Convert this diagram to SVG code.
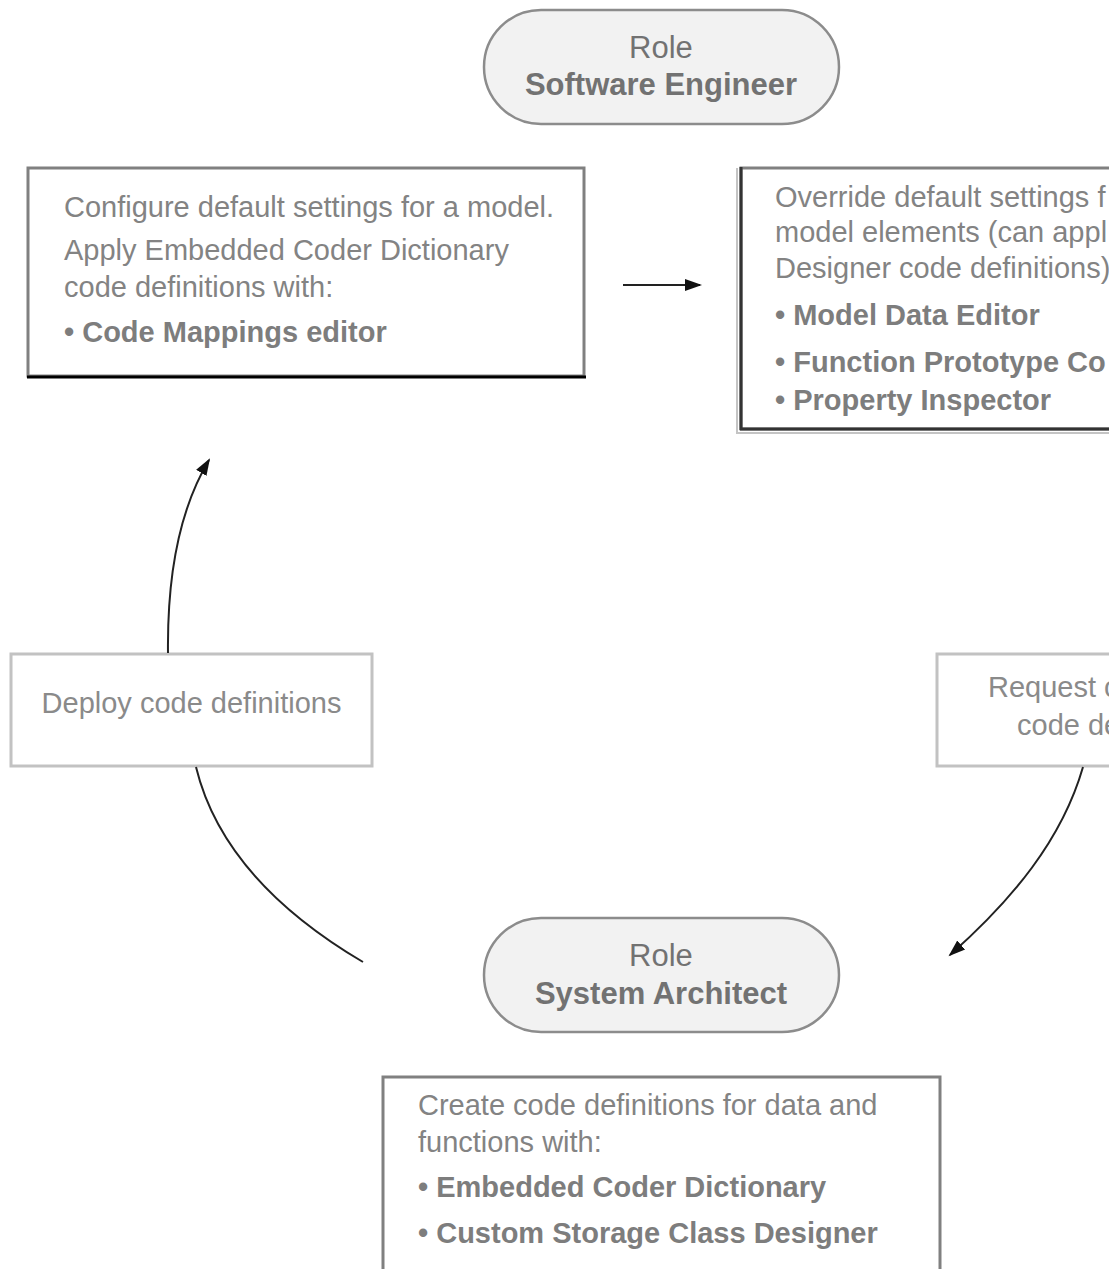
<svg xmlns="http://www.w3.org/2000/svg" width="1109" height="1269" viewBox="0 0 1109 1269">
<defs>
<marker id="ah" markerWidth="18" markerHeight="14" refX="15" refY="7" orient="auto" markerUnits="userSpaceOnUse" viewBox="0 0 18 14">
<path d="M0,1 L17,7 L0,13 Z" fill="#111"/>
</marker>
<style>
.t{font-family:"Liberation Sans",Arial,sans-serif;font-size:29px;fill:#838383}
.b{font-weight:bold;fill:#7d7d7d}
.r{font-family:"Liberation Sans",Arial,sans-serif;font-size:31px;fill:#727272;text-anchor:middle}
.role{fill:#f2f2f2;stroke:#8c8c8c;stroke-width:2.5}
.box{fill:#fff;stroke:#808080;stroke-width:3}
.lbox{fill:#fff;stroke:#c2c2c2;stroke-width:3}
.c{fill:none;stroke:#222;stroke-width:2}
</style>
</defs>
<rect width="1109" height="1269" fill="#fff"/>

<g id="role-software-engineer">
<rect class="role" x="484" y="10" width="355" height="114" rx="57" ry="57"/>
<text class="r" x="661" y="58">Role</text>
<text class="r b" x="661" y="95" style="fill:#727272">Software Engineer</text>
</g>

<g id="configure-box">
<rect class="box" x="28" y="168" width="556" height="208"/>
<line x1="27" y1="377" x2="586" y2="377" stroke="#000" stroke-width="3"/>
<text class="t" x="64" y="217">Configure default settings for a model.</text>
<text class="t" x="64" y="260">Apply Embedded Coder Dictionary</text>
<text class="t" x="64" y="297">code definitions with:</text>
<text class="t b" x="64" y="342">• Code Mappings editor</text>
</g>

<g id="override-box">
<rect class="box" x="741" y="168" width="380" height="261"/>
<line x1="737" y1="168" x2="737" y2="433" stroke="#c4c4c4" stroke-width="2"/>
<line x1="741" y1="167" x2="741" y2="430" stroke="#333" stroke-width="3"/>
<line x1="740" y1="429" x2="1109" y2="429" stroke="#333" stroke-width="3"/>
<line x1="736" y1="433" x2="1109" y2="433" stroke="#c4c4c4" stroke-width="2"/>
<text class="t" x="775" y="207">Override default settings f</text>
<text class="t" x="775" y="242">model elements (can appl</text>
<text class="t" x="775" y="278">Designer code definitions)</text>
<text class="t b" x="775" y="325">• Model Data Editor</text>
<text class="t b" x="775" y="372">• Function Prototype Co</text>
<text class="t b" x="775" y="410">• Property Inspector</text>
</g>

<g id="deploy-box">
<rect class="lbox" x="11" y="654" width="361" height="112"/>
<text class="t" x="191.5" y="713" text-anchor="middle" style="fill:#8a8a8a">Deploy code definitions</text>
</g>

<g id="request-box">
<rect class="lbox" x="937" y="654" width="200" height="112"/>
<text class="t" x="988" y="697" style="fill:#8a8a8a">Request c</text>
<text class="t" x="1017" y="735" style="fill:#8a8a8a">code de</text>
</g>

<g id="role-system-architect">
<rect class="role" x="484" y="918" width="355" height="114" rx="57" ry="57"/>
<text class="r" x="661" y="966">Role</text>
<text class="r b" x="661" y="1004" style="fill:#727272">System Architect</text>
</g>

<g id="create-box">
<rect class="box" x="383" y="1077" width="557" height="210"/>
<text class="t" x="418" y="1115">Create code definitions for data and</text>
<text class="t" x="418" y="1152">functions with:</text>
<text class="t b" x="418" y="1197">• Embedded Coder Dictionary</text>
<text class="t b" x="418" y="1243">• Custom Storage Class Designer</text>
</g>

<g id="connectors">
<line class="c" x1="623" y1="285" x2="700" y2="285" marker-end="url(#ah)"/>
<path class="c" d="M168,653 C167,570 182,505 209,460" marker-end="url(#ah)"/>
<path class="c" d="M196,767 C215,845 275,910 363,962"/>
<path class="c" d="M1083,767 C1062,840 1012,900 950,955" marker-end="url(#ah)"/>
</g>
</svg>
